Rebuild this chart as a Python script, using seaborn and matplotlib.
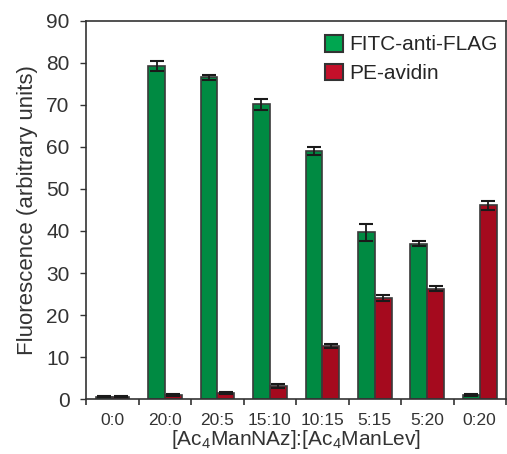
import matplotlib
matplotlib.use("Agg")
import matplotlib.pyplot as plt
from matplotlib.patches import Patch
import numpy as np
import pandas as pd
import seaborn as sns

# values
ratios = ["0:0", "20:0", "20:5", "15:10", "10:15", "5:15", "5:20", "0:20"]
fitc = [0.6, 79.3, 76.6, 70.2, 59.0, 39.7, 37.0, 1.0]
fitc_err = [0.1, 1.2, 0.6, 1.3, 1.0, 2.0, 0.6, 0.2]
pe = [0.6, 1.0, 1.5, 3.1, 12.6, 24.0, 26.3, 46.1]
pe_err = [0.1, 0.2, 0.2, 0.5, 0.4, 0.7, 0.5, 1.0]
series = ["FITC-anti-FLAG", "PE-avidin"]

bar_colors = ["#008a42", "#a50a1e"]
legend_colors = ["#00a650", "#c4102a"]

df = pd.DataFrame({
    "ratio": ratios * 2,
    "value": fitc + pe,
    "series": [series[0]] * len(ratios) + [series[1]] * len(ratios),
})

sns.set_style("ticks")
plt.rcParams['font.family'] = ['Liberation Sans', 'DejaVu Sans']
plt.rcParams['mathtext.default'] = 'regular'

fig = plt.figure(figsize=(5.07, 4.54), dpi=100)
ax = fig.add_axes([0.170, 0.121, 0.828, 0.833])

sns.barplot(data=df, x="ratio", y="value", hue="series", order=ratios,
            hue_order=series, palette=bar_colors, saturation=1, width=0.64,
            gap=0, errorbar=None, edgecolor="#3a3a3a", linewidth=1.2, ax=ax,
            legend=False)

# error bars on top of each bar
errs = [fitc_err, pe_err]
for cont, err in zip(ax.containers, errs):
    xs = [b.get_x() + b.get_width() / 2 for b in cont]
    hs = [b.get_height() for b in cont]
    ax.errorbar(xs, hs, yerr=err, fmt="none", ecolor="#1a1a1a",
                elinewidth=1.3, capsize=5, capthick=1.5, zorder=5)

ax.set_xlim(-0.5, len(ratios) - 0.5)
ax.set_ylim(0, 90)
ax.set_yticks(np.arange(0, 91, 10))

# x ticks sit between the groups, labels at the centres
ax.set_xticks(np.arange(-0.5, len(ratios), 1.0))
ax.set_xticklabels([])
ax.set_xticks(np.arange(len(ratios)), minor=True)
ax.set_xticklabels(ratios, minor=True)
ax.tick_params(axis="x", which="major", direction="out", length=4, width=1.2, color="#333333")
ax.tick_params(axis="x", which="minor", length=0, pad=10, labelsize=12.5, labelcolor="#333333")
ax.tick_params(axis="y", direction="out", length=4, width=1, color="#333333",
               labelsize=15, labelcolor="#333333", pad=8)

for sp in ax.spines.values():
    sp.set_visible(True)
    sp.set_color("#333333")
    sp.set_linewidth(1.2)

ax.set_xlabel("[Ac$_4$ManNAz]:[Ac$_4$ManLev]", fontsize=15, color="#333333", labelpad=0)
ax.set_ylabel("Fluorescence (arbitrary units)", fontsize=16, color="#333333", labelpad=6)

handles = [Patch(facecolor=c, edgecolor="#333333", linewidth=1.5) for c in legend_colors]
ax.legend(handles, series, loc="upper right", frameon=False, fontsize=15,
          handlelength=0.85, handleheight=0.85, handletextpad=0.3,
          labelspacing=0.45, borderaxespad=0.0, bbox_to_anchor=(1.0, 0.985))

fig.savefig("out.png", dpi=100)
